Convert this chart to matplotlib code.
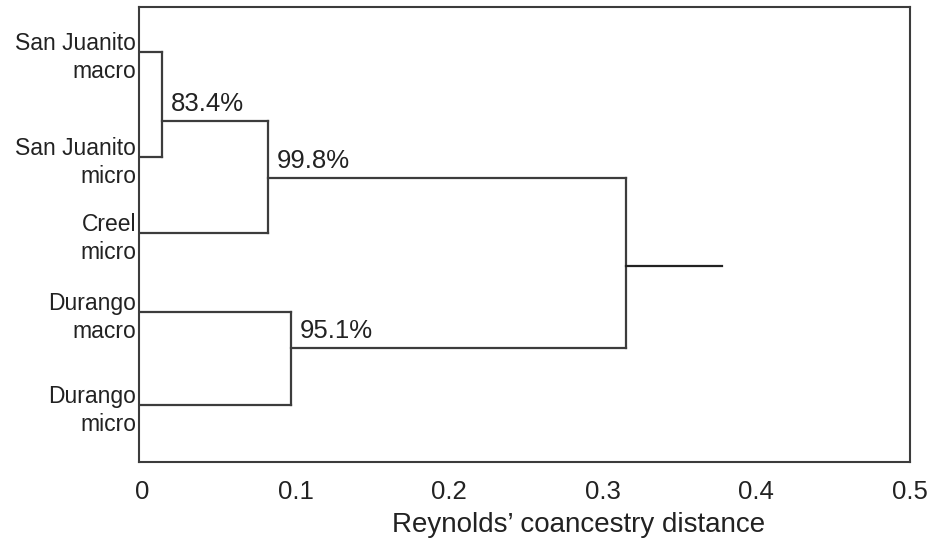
import matplotlib.pyplot as plt

plt.rcParams["font.family"] = ["Liberation Sans", "DejaVu Sans"]

# leaves (top to bottom) and where they sit on the vertical axis
leaves = ["San Juanito\nmacro", "San Juanito\nmicro", "Creel\nmicro", "Durango\nmacro", "Durango\nmicro"]
leaf_y = [52, 157, 233, 312, 405]

# merge distances (Reynolds' coancestry) and bootstrap support
d_sj = 0.013      # San Juanito macro + micro
d_creel = 0.082   # + Creel micro
d_dur = 0.097     # Durango macro + micro
d_root = 0.315    # all
d_tail = 0.378    # root stem end
support = ["83.4%", "99.8%", "95.1%"]

# heights where each cluster's stem leaves the bracket
y_sj, y_creel, y_dur, y_root = 121, 178, 348, 266

lc = "#3c3c3c"
lw = 1.6

fig = plt.figure(figsize=(9.38, 5.42), dpi=100)
ax = fig.add_axes([0.148, 0.1476, 0.822, 0.8394])

x0 = -0.002
# leaf branches
ax.plot([x0, d_sj], [leaf_y[0], leaf_y[0]], color=lc, lw=lw)
ax.plot([x0, d_sj], [leaf_y[1], leaf_y[1]], color=lc, lw=lw)
ax.plot([d_sj, d_sj], [leaf_y[0], leaf_y[1]], color=lc, lw=lw)
ax.plot([d_sj, d_creel], [y_sj, y_sj], color=lc, lw=lw)
ax.plot([x0, d_creel], [leaf_y[2], leaf_y[2]], color=lc, lw=lw)
ax.plot([d_creel, d_creel], [y_sj, leaf_y[2]], color=lc, lw=lw)
ax.plot([d_creel, d_root], [y_creel, y_creel], color=lc, lw=lw)

ax.plot([x0, d_dur], [leaf_y[3], leaf_y[3]], color=lc, lw=lw)
ax.plot([x0, d_dur], [leaf_y[4], leaf_y[4]], color=lc, lw=lw)
ax.plot([d_dur, d_dur], [leaf_y[3], leaf_y[4]], color=lc, lw=lw)
ax.plot([d_dur, d_root], [y_dur, y_dur], color=lc, lw=lw)

ax.plot([d_root, d_root], [y_creel, y_dur], color=lc, lw=lw)
ax.plot([d_root, d_tail], [y_root, y_root], color="#222222", lw=lw)

# support values
for xn, yn, s in zip([d_sj, d_creel, d_dur], [y_sj, y_creel, y_dur], support):
    ax.text(xn + 0.006, yn - 5, s, fontsize=18.5, color="#222222", ha="left", va="bottom")

ax.set_xlim(x0, 0.497)
ax.set_ylim(462, 7)
ax.set_xticks([0, 0.1, 0.2, 0.3, 0.4, 0.5])
ax.set_xticklabels(["0", "0.1", "0.2", "0.3", "0.4", "0.5"])
ax.set_yticks(leaf_y)
ax.set_yticklabels(leaves, ha="right", linespacing=1.3)
ax.tick_params(axis="x", length=0, pad=13, labelsize=18.5, colors="#222222")
ax.tick_params(axis="y", length=0, pad=2, labelsize=16.5, colors="#222222")
for sp in ax.spines.values():
    sp.set_color(lc)
    sp.set_linewidth(1.5)
ax.set_xlabel("Reynolds\u2019 coancestry distance", fontsize=20, color="#222222")
ax.xaxis.set_label_coords(0.57, -0.11)

fig.savefig("out.png", dpi=100)
